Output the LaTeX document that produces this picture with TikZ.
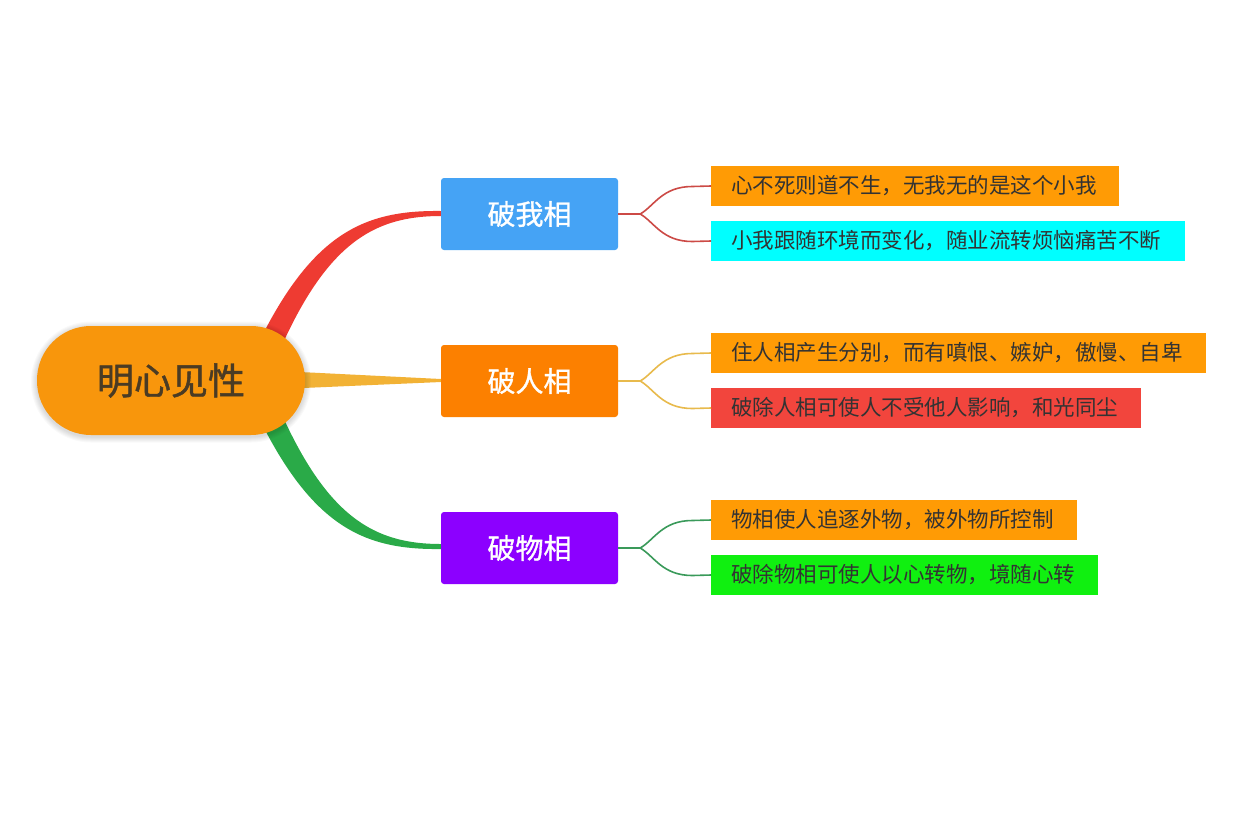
\documentclass[tikz,border=0pt]{standalone}
\usepackage{fontspec}
\setmainfont{Noto Sans CJK SC}
\newfontfamily\medfont[FakeBold=1.2]{Noto Sans CJK SC}
\usetikzlibrary{calc}
\definecolor{rootc}{HTML}{F8960C}
\definecolor{roottext}{HTML}{4A3B24}
\definecolor{bluec}{HTML}{45A3F5}
\definecolor{orangec}{HTML}{FC8000}
\definecolor{purplec}{HTML}{8C00FF}
\definecolor{leafor}{HTML}{FF9B05}
\definecolor{leafcy}{HTML}{00FFFF}
\definecolor{leafrd}{HTML}{F2453D}
\definecolor{leafgr}{HTML}{10F010}
\definecolor{linered}{HTML}{EE3B32}
\definecolor{linegold}{HTML}{F2B235}
\definecolor{linegreen}{HTML}{2AAA48}
\definecolor{thinred}{HTML}{CC4A46}
\definecolor{thingold}{HTML}{E8BA4C}
\definecolor{thingreen}{HTML}{3A9A5A}
\definecolor{leaftext}{HTML}{333333}
\begin{document}
\begin{tikzpicture}[x=1pt,y=-1pt,
  rootbox/.style={fill=rootc, rounded corners=54pt, minimum width=268pt, minimum height=109pt, inner sep=0pt,
    text=roottext, font=\fontsize{37}{40}\selectfont\medfont},
  topicbox/.style={rounded corners=3pt, minimum width=177pt, minimum height=72pt, inner sep=0pt,
    text=white, font=\fontsize{28}{32}\selectfont\medfont},
  leafbox/.style={anchor=west, minimum height=40pt, inner xsep=20pt, inner ysep=0pt, align=left,
    text=leaftext, font=\fontsize{21.5}{24}\selectfont},
  thin/.style={line width=1.6pt},
  glow/.style={fill=black, fill opacity=0.025}
]
\useasboundingbox (0,0) rectangle (1260,823);
\fill[white] (0,0) rectangle (1260,823);

% main tapered branches (drawn before nodes)
\fill[linered] (245,372) .. controls (305,235) and (360,210) .. (441,211)
  -- (441,216) .. controls (368,216) and (318,248) .. (265,386) -- cycle;
\fill[linegreen] (245,388) .. controls (305,525) and (360,550) .. (441,549)
  -- (441,544) .. controls (368,544) and (318,512) .. (265,374) -- cycle;
\fill[linegold] (280,371) -- (441,379) -- (441,382) -- (280,389) -- cycle;

% soft shadow of the central topic
\foreach \e in {1,2,...,6}{
  \fill[glow, rounded corners=54pt+\e pt] (37-\e,326-\e+1.5) rectangle (305+\e,435+\e+1.5);
}
\node[rootbox] (root) at (171,380.5) {明心见性};

\node[topicbox, fill=bluec]   (t1) at (529.5,214) {破我相};
\node[topicbox, fill=orangec] (t2) at (529.5,381) {破人相};
\node[topicbox, fill=purplec] (t3) at (529.5,548) {破物相};

\node[leafbox, fill=leafor, text width=368pt] (l1) at (711,186) {心不死则道不生，无我无的是这个小我};
\node[leafbox, fill=leafcy, text width=434pt] (l2) at (711,241) {小我跟随环境而变化，随业流转烦恼痛苦不断};
\node[leafbox, fill=leafor, text width=455pt] (l3) at (711,353) {住人相产生分别，而有嗔恨、嫉妒，傲慢、自卑};
\node[leafbox, fill=leafrd, text width=390pt] (l4) at (711,408) {破除人相可使人不受他人影响，和光同尘};
\node[leafbox, fill=leafor, text width=326pt] (l5) at (711,520) {物相使人追逐外物，被外物所控制};
\node[leafbox, fill=leafgr, text width=347pt] (l6) at (711,575) {破除物相可使人以心转物，境随心转};

% thin branches
\foreach \t/\a/\b/\c in {t1/l1/l2/thinred, t2/l3/l4/thingold, t3/l5/l6/thingreen}{
  \draw[thin, \c] (\t.east) -- ++(22,0) coordinate (m)
     .. controls ($(m)+(14,-8)$) and ($(m)+(22,-27.5)$) .. ($(m)+(52,-27.5)$) -- (\a.west);
  \draw[thin, \c] (m)
     .. controls ($(m)+(14,8)$) and ($(m)+(22,27.5)$) .. ($(m)+(52,27.5)$) -- (\b.west);
}
\end{tikzpicture}
\end{document}
